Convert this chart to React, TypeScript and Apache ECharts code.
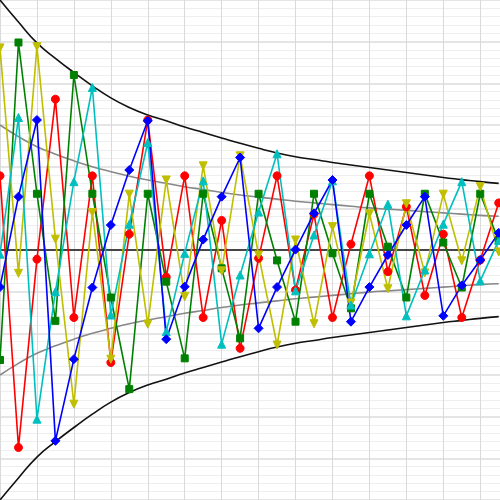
import React, { useEffect, useRef } from "react";
import * as echarts from "echarts";

const steps = [0, 1, 2, 3, 4, 5, 6, 7, 8, 9, 10, 11, 12, 13, 14, 15, 16, 17, 18, 19, 20, 21, 22, 23, 24, 25, 26, 27];

const redValues = [1.78, -4.74, -0.22, 3.62, -1.62, 1.78, -2.7, 0.38, 3.12, -0.65, 1.78, -1.62, 0.71, -2.36, -0.2, 1.78, -0.96, 0.86, -1.62, 0.14, 1.78, -0.52, 1.04, -1.09, 0.38, -1.62, -0.24, 1.13];
const greenValues = [-2.64, 4.98, 1.35, -1.7, 4.2, 1.35, -1.14, -3.34, 1.35, -0.76, -2.6, 1.35, -0.44, -2.12, 1.35, -0.25, -1.72, 1.35, -0.08, -1.4, 1.35, 0.08, -1.14, 1.35, 0.18, -0.9, 1.35, 0.22];
const yellowValues = [4.85, -0.56, 4.88, 0.26, -3.7, 0.9, -2.62, 1.34, -1.78, 1.68, -1.12, 2.02, -0.5, 2.26, -0.12, -2.28, 0.24, -1.77, 0.56, -1.27, 0.87, -0.93, 1.11, -0.55, 1.34, -0.26, 1.52, -0.05];
const cyanValues = [-0.1, 3.18, -4.06, -1.0, 1.64, 3.9, -1.56, 0.62, 2.58, -1.96, -0.08, 1.66, -2.26, -0.6, 0.91, 2.31, -0.98, 0.36, 1.66, -1.32, -0.09, 1.1, -1.58, -0.48, 0.62, 1.64, -0.74, 0.23];
const blueValues = [-0.89, 1.28, 3.12, -4.58, -2.62, -0.9, 0.6, 1.92, 3.1, -2.14, -0.88, 0.25, 1.28, 2.22, -1.88, -0.89, 0.01, 0.88, 1.68, -1.72, -0.89, -0.12, 0.6, 1.28, -1.58, -0.85, -0.24, 0.41];

const outerBound = [6.0, 5.47, 4.97, 4.6, 4.26, 3.94, 3.65, 3.42, 3.24, 3.1, 2.95, 2.82, 2.69, 2.56, 2.44, 2.33, 2.24, 2.17, 2.1, 2.04, 1.98, 1.92, 1.86, 1.8, 1.74, 1.69, 1.64, 1.6];
const innerBound = [3.0, 2.72, 2.48, 2.3, 2.14, 2.0, 1.88, 1.77, 1.68, 1.6, 1.52, 1.45, 1.38, 1.32, 1.27, 1.22, 1.17, 1.13, 1.09, 1.05, 1.01, 0.98, 0.95, 0.92, 0.89, 0.86, 0.83, 0.81];

const X_MAX = 27.07;

function pairs(vals: number[], sign = 1) {
  return steps.map((s, i) => [s, sign * vals[i]]);
}

export default function App() {
  const ref = useRef<HTMLDivElement>(null);
  useEffect(() => {
    if (!ref.current) return;
    const chart = echarts.init(ref.current, null, { renderer: "svg" });
    const curve = (name: string, vals: number[], sign: number, color: string) => ({
      name,
      type: "line",
      data: pairs(vals, sign),
      smooth: true,
      showSymbol: false,
      symbol: "none",
      lineStyle: { color, width: 1.6 },
      silent: true,
      z: 1,
    });
    const marked = (name: string, vals: number[], color: string, symbol: string, size: number, rotate = 0) => ({
      name,
      type: "line",
      data: pairs(vals),
      symbol,
      symbolSize: size,
      symbolRotate: rotate,
      showAllSymbol: true,
      lineStyle: { color, width: 1.6 },
      itemStyle: { color, borderColor: color },
      clip: false,
      z: 3,
    });
    chart.setOption({
      animation: false,
      backgroundColor: "#ffffff",
      grid: { left: 0, right: 0, top: 0, bottom: 0, containLabel: false },
      xAxis: {
        type: "value",
        min: 0,
        max: X_MAX,
        interval: 2,
        axisLine: { show: false },
        axisTick: { show: false },
        axisLabel: { show: false },
        splitLine: { show: true, lineStyle: { color: "#d9d9d9", width: 1 } },
      },
      yAxis: {
        type: "value",
        min: -6,
        max: 6,
        interval: 1,
        axisLine: { show: false },
        axisTick: { show: false },
        axisLabel: { show: false },
        splitLine: { show: true, lineStyle: { color: "#dcdcdc", width: 1.5 } },
        minorTick: { show: false, splitNumber: 5 },
        minorSplitLine: { show: true, lineStyle: { color: "#eeeeee", width: 1 } },
      },
      series: [
        curve("outerUpper", outerBound, 1, "#111111"),
        curve("outerLower", outerBound, -1, "#111111"),
        curve("innerUpper", innerBound, 1, "#888888"),
        curve("innerLower", innerBound, -1, "#888888"),
        {
          name: "zero",
          type: "line",
          data: [[0, 0], [X_MAX, 0]],
          showSymbol: false,
          symbol: "none",
          lineStyle: { color: "#111111", width: 1.6 },
          silent: true,
          z: 2,
        },
        marked("red", redValues, "#ff0000", "circle", 8),
        marked("green", greenValues, "#008000", "rect", 7),
        marked("yellow", yellowValues, "#bfbf00", "triangle", 8, 180),
        marked("cyan", cyanValues, "#00bfbf", "triangle", 8),
        marked("blue", blueValues, "#0000ff", "diamond", 9),
      ],
    });
    return () => chart.dispose();
  }, []);
  return (
    <div
      ref={ref}
      style={{ position: "fixed", left: 0, top: 0, width: 500, height: 500 }}
    />
  );
}
